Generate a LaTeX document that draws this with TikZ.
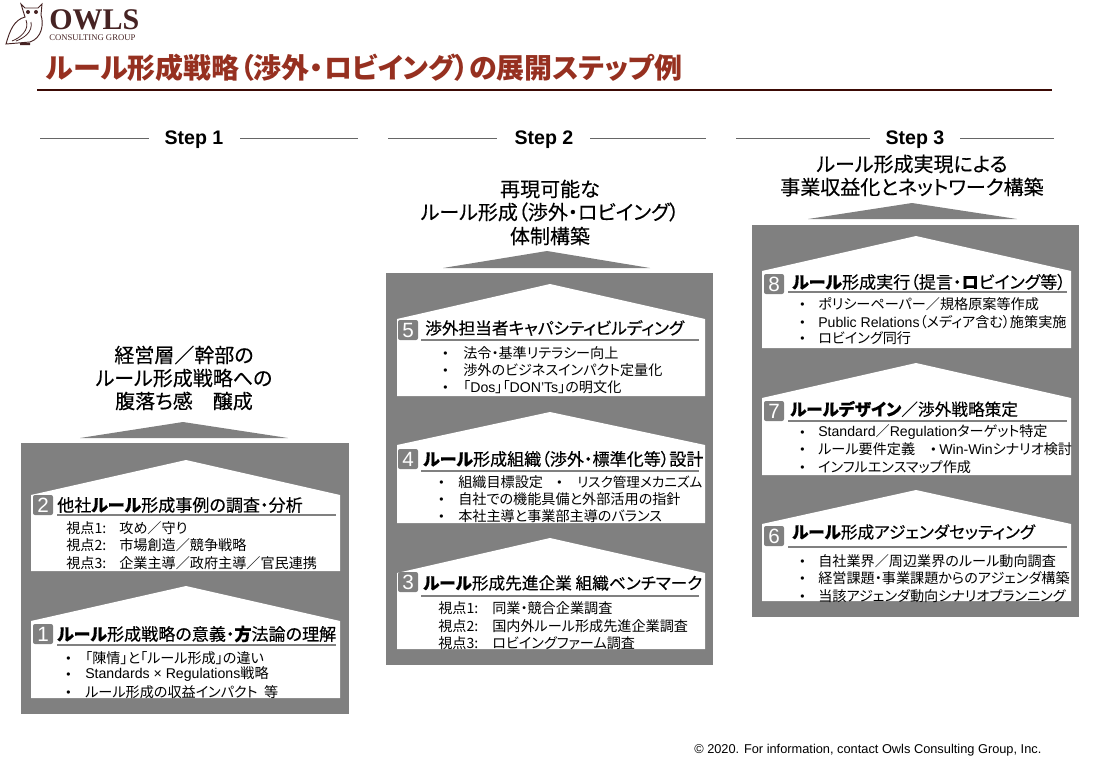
\documentclass[tikz,border=0pt]{standalone}
\usepackage{fontspec}
\setmainfont[RawFeature=+palt]{Noto Sans CJK JP}
\newfontfamily\latinfont{Liberation Sans}
\newfontfamily\logofont{Liberation Serif}
\newfontfamily\headfont[FakeBold=0.25,RawFeature=+palt]{Noto Sans CJK JP}
\newcommand{\lat}[1]{{\latinfont #1}}
\definecolor{panelgray}{RGB}{128,128,128}
\definecolor{titlered}{RGB}{150,48,32}
\definecolor{darkbrown}{RGB}{60,10,5}
\definecolor{owlbrown}{RGB}{70,35,35}

\begin{document}
\begin{tikzpicture}[%
        x = 0.75pt,
        y = -0.75pt,
        panel/.style = {fill = panelgray},
        steptext/.style = {font = \latinfont\bfseries\fontsize{14.7}{16}\selectfont},
        headline/.style = {font = \headfont\fontsize{15}{17}\selectfont, anchor = center},
        boxtitle/.style = {font = \headfont\fontsize{12.8}{14}\selectfont, anchor = west, inner sep = 0pt},
        boxtitlesmall/.style = {boxtitle, font = \headfont\fontsize{12.5}{14}\selectfont},
        bodytext/.style = {font = \fontsize{10.6}{12}\selectfont, anchor = west, inner sep = 0pt},
        dotmark/.style = {font = \latinfont\fontsize{9}{11}\selectfont, anchor = west, inner sep = 0pt, yshift = -1.5pt},
        badge/.style = {fill = panelgray, text = white, rounded corners = 1.5pt, minimum size = 15pt,
            inner sep = 0pt, font = \latinfont\fontsize{15.5}{16}\selectfont},
        rulegray/.style = {draw = panelgray, line width = 1.2pt},
        stepline/.style = {draw = black!60, line width = 0.6pt}
    ]
        \useasboundingbox (0, 0) rectangle (1108, 768);

        % Logo: the owl and the company name.
        \draw[owlbrown, line width = 0.7pt, fill = white] (21, 4) to (25, 8) to (38, 8) to (42, 4)
            to (41, 15) .. controls (44, 24) and (42, 38) .. (30, 42)
            to (6, 44) .. controls (10, 30) and (14, 20) .. (25, 17) to cycle;
        \draw[owlbrown, line width = 0.6pt] (12, 41) .. controls (20, 38) and (30, 30) .. (26, 20);
        \draw[owlbrown, line width = 0.6pt] (16, 41) .. controls (24, 38) and (33, 32) .. (31, 22);
        \fill[owlbrown] (28, 12) circle (2) (36, 12) circle (2) (20, 43) rectangle (30, 45);
        \node[font = \logofont\bfseries\fontsize{22.5}{22}\selectfont, text = owlbrown, inner sep = 0pt, anchor = west] (logoname) at (49, 20) {OWLS};
        \node[font = \logofont\fontsize{6.5}{7}\selectfont, text = owlbrown, inner sep = 0pt, anchor = west] (logosub) at (49, 38) {CONSULTING GROUP};

        % Page title and its rule.
        \node[font = \bfseries\fontsize{21}{24}\selectfont, text = titlered, inner sep = 0pt, anchor = west] (pagetitle) at (46, 68)
            {ルール形成戦略（渉外・ロビイング）の展開ステップ例};
        \draw[darkbrown, line width = 1.8pt] (37, 90) to (1052, 90);

        % Step headings.
        \node[steptext] (stepa) at (194, 140) {Step 1};
        \node[steptext] (stepb) at (544, 140) {Step 2};
        \node[steptext] (stepc) at (915, 140) {Step 3};
        \draw[stepline] (40, 138) to (149, 138) (240, 138) to (358, 138);
        \draw[stepline] (388, 138) to (497, 138) (590, 138) to (706, 138);
        \draw[stepline] (736, 138) to (870, 138) (960, 138) to (1054, 138);

        % Headlines over the three panels.
        \node[headline] (heada) at (184, 355) {経営層／幹部の};
        \node[headline] (headb) at (184, 378) {ルール形成戦略への};
        \node[headline] (headc) at (184, 401) {腹落ち感　醸成};
        \node[headline] (headd) at (550, 189) {再現可能な};
        \node[headline] (heade) at (550, 212) {ルール形成（渉外・ロビイング）};
        \node[headline] (headf) at (550, 236) {体制構築};
        \node[headline] (headg) at (912, 164) {ルール形成実現による};
        \node[headline] (headh) at (912, 187) {事業収益化とネットワーク構築};

        % Gray panels with the flat arrow heads above them.
        \fill[panel] (21, 443) rectangle (349, 714);
        \fill[panel] (386, 273) rectangle (713, 665);
        \fill[panel] (752, 225) rectangle (1079, 617);
        \fill[panel] (80, 438) to (183, 422) to (288, 438) to cycle;
        \fill[panel] (443, 268) to (547, 251) to (650, 268) to cycle;
        \fill[panel] (808, 219) to (912, 203) to (1017, 219) to cycle;

        % White house shapes: left/right/apex x, then apex/shoulder/bottom y.
        \foreach \lft/\rgt/\apx/\tp/\shd/\bot in {%
                31/340/186/460/495/571, 31/340/186/586/621/698,
                397/705/550/284/319/396, 397/705/550/412/445/523, 397/705/550/538/573/649,
                762/1071/916/236/271/348, 762/1071/916/363/398/475, 762/1071/916/490/524/601}
            \fill[white] (\lft, \shd) to (\apx, \tp) to (\rgt, \shd) to (\rgt, \bot) to (\lft, \bot) to cycle;

        % Box 2.
        \node[badge] (numb) at (43, 505) {2};
        \node[boxtitle] (titleb) at (57, 505) {他社\textbf{ルール}形成事例の調査・分析};
        \draw[rulegray] (57, 515) to (336, 515);
        \node[bodytext] (ba) at (66, 528) {視点1:};
        \node[bodytext] (bb) at (66, 545) {視点2:};
        \node[bodytext] (bc) at (66, 563) {視点3:};
        \node[bodytext] (bd) at (119, 528) {攻め／守り};
        \node[bodytext] (be) at (119, 545) {市場創造／競争戦略};
        \node[bodytext] (bf) at (119, 563) {企業主導／政府主導／官民連携};

        % Box 1.
        \node[badge] (numa) at (43, 634) {1};
        \node[boxtitle] (titlea) at (57, 634) {\textbf{ルール}形成戦略の意義・\textbf{方}法論の理解};
        \draw[rulegray] (57, 645) to (336, 645);
        \foreach \yy/\nm/\txt in {658/aa/「陳情」と「ルール形成」の違い, 674/ab/\lat{Standards × Regulations}戦略, 692/ac/ルール形成の収益インパクト\ \ 等} {
            \node[dotmark] (\nm dot) at (66, \yy) {•};
            \node[bodytext] (\nm) at (85, \yy) {\txt};
        }

        % Box 5.
        \node[badge] (nume) at (408, 330) {5};
        \node[boxtitlesmall] (titlee) at (425, 328) {渉外担当者キャパシティビルディング};
        \draw[rulegray] (421, 340) to (699, 340);
        \foreach \yy/\nm/\txt in {353/ea/法令・基準リテラシー向上, 370/eb/渉外のビジネスインパクト定量化, 387/ec/「\lat{Dos}」「\lat{DON’Ts}」の明文化} {
            \node[dotmark] (\nm dot) at (443, \yy) {•};
            \node[bodytext] (\nm) at (463, \yy) {\txt};
        }

        % Box 4.
        \node[badge] (numd) at (408, 459) {4};
        \node[boxtitle] (titled) at (423, 459) {\textbf{ルール}形成組織（渉外・標準化等）設計};
        \draw[rulegray] (421, 471) to (699, 471);
        \foreach \yy/\nm/\txt in {482/da/組織目標設定, 499/db/自社での機能具備と外部活用の指針, 516/dc/本社主導と事業部主導のバランス} {
            \node[dotmark] (\nm dot) at (439, \yy) {•};
            \node[bodytext] (\nm) at (458, \yy) {\txt};
        }
        \node[dotmark] (dddot) at (557, 482) {•};
        \node[bodytext, font = \fontsize{10.2}{12}\selectfont] (dd) at (577, 482) {リスク管理メカニズム};

        % Box 3.
        \node[badge] (numc) at (408, 582) {3};
        \node[boxtitlesmall] (titlec) at (423, 583) {\textbf{ルール}形成先進企業 組織ベンチマーク};
        \draw[rulegray] (421, 596) to (699, 596);
        \node[bodytext] (ca) at (438, 608) {視点1:};
        \node[bodytext] (cb) at (438, 626) {視点2:};
        \node[bodytext] (cc) at (438, 643) {視点3:};
        \node[bodytext] (cd) at (492, 608) {同業・競合企業調査};
        \node[bodytext] (ce) at (492, 626) {国内外ルール形成先進企業調査};
        \node[bodytext] (cf) at (492, 643) {ロビイングファーム調査};

        % Box 8.
        \node[badge] (numh) at (774, 284) {8};
        \node[boxtitle] (titleh) at (792, 282) {\textbf{ルール}形成実行（提言・\textbf{ロ}ビイング等）};
        \draw[rulegray] (788, 292) to (1067, 292);
        \foreach \yy/\nm/\txt in {304/ha/ポリシーペーパー／規格原案等作成, 322/hb/\lat{Public Relations}（メディア含む）施策実施, 338/hc/ロビイング同行} {
            \node[dotmark] (\nm dot) at (800, \yy) {•};
            \node[bodytext] (\nm) at (818, \yy) {\txt};
        }

        % Box 7.
        \node[badge] (numg) at (774, 411) {7};
        \node[boxtitlesmall] (titleg) at (790, 409) {\textbf{ルールデザイン}／渉外戦略策定};
        \draw[rulegray] (788, 421) to (1067, 421);
        \foreach \yy/\nm/\txt in {432/ga/\lat{Standard}／\lat{Regulation}ターゲット特定, 449/gb/ルール要件定義, 467/gc/インフルエンスマップ作成} {
            \node[dotmark] (\nm dot) at (800, \yy) {•};
            \node[bodytext] (\nm) at (818, \yy) {\txt};
        }
        \node[dotmark] (gddot) at (931, 449) {•};
        \node[bodytext] (gd) at (939, 449) {\lat{Win-Win}シナリオ検討};

        % Box 6.
        \node[badge] (numf) at (774, 536) {6};
        \node[boxtitlesmall] (titlef) at (792, 532) {\textbf{ルール}形成アジェンダセッティング};
        \draw[rulegray] (788, 547) to (1067, 547);
        \foreach \yy/\nm/\txt in {561/fa/自社業界／周辺業界のルール動向調査, 578/fb/経営課題・事業課題からのアジェンダ構築, 596/fc/当該アジェンダ動向シナリオプランニング} {
            \node[dotmark] (\nm dot) at (800, \yy) {•};
            \node[bodytext] (\nm) at (818, \yy) {\txt};
        }

        % Footer.
        \node[font = \latinfont\fontsize{9.6}{11}\selectfont, inner sep = 0pt, anchor = west] (footer) at (694, 750)
            {© 2020. For information, contact Owls Consulting Group, Inc.};
    \end{tikzpicture}
\end{document}
